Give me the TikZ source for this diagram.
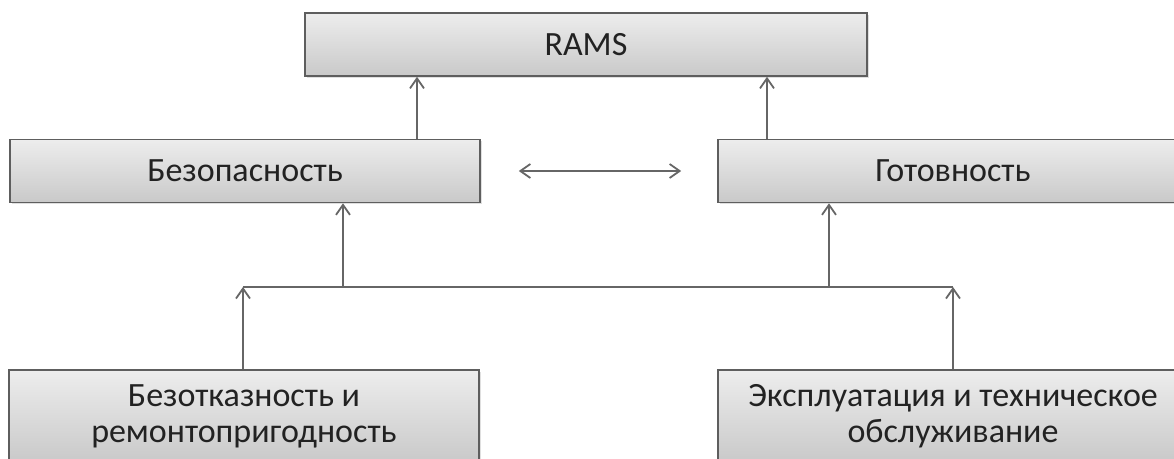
\documentclass[tikz,border=0pt]{standalone}
\usepackage{fontspec}
\setmainfont{Carlito}
\usepackage{xcolor}
\usetikzlibrary{arrows.meta, shadows}

\definecolor{boxtop}{HTML}{EDEDED}
\definecolor{boxbot}{HTML}{C9C9C9}
\definecolor{boxline}{HTML}{5E5E5E}
\definecolor{linegray}{HTML}{666666}
\definecolor{boxtext}{HTML}{222222}

\tikzset{
  block/.style={draw=boxline, line width=0.8pt, top color=boxtop, bottom color=boxbot,
    minimum width=235pt, minimum height=31.5pt, text=boxtext, align=center,
    font=\fontsize{17}{18}\selectfont,
    drop shadow={opacity=0.25, shadow xshift=1pt, shadow yshift=-1pt}},
  conn/.style={draw=linegray, line width=0.9pt, -{Straight Barb[length=5pt,width=7pt]}}
}

\begin{document}
\begin{tikzpicture}[x=0.5pt, y=-0.5pt]
\clip (0,0) rectangle (1174,459);
\fill[white] (0,0) rectangle (1174,459);

% Top level
\node[block, minimum width=281pt] (rams) at (586,44.5) {RAMS};

% Middle level
\node[block] (bez) at (245,171) {Безопасность};
\node[block] (got) at (953,171) {Готовность};

% Bottom level
\node[block, minimum height=46pt] (rel) at (244,416) {Безотказность и\\ремонтопригодность};
\node[block, minimum height=46pt] (ops) at (953,416) {Эксплуатация и техническое\\обслуживание};

% Bus line
\coordinate (busL) at (243,287);
\coordinate (busR) at (953,287);
\draw[linegray, line width=0.9pt] (busL) -- (busR);

% Arrows up
\draw[conn] (rel.north -| busL) -- (busL);
\draw[conn] (ops.north -| busR) -- (busR);
\draw[conn] (busL -| 343,0) -- (bez.south -| 343,0);
\draw[conn] (busR -| 829,0) -- (got.south -| 829,0);
\draw[conn] (bez.north -| 417,0) -- (rams.south -| 417,0);
\draw[conn] (got.north -| 767,0) -- (rams.south -| 767,0);

% Between safety and availability
\draw[conn, {Straight Barb[length=5pt,width=7pt]}-{Straight Barb[length=5pt,width=7pt]}] ([xshift=19pt]bez.east) -- ([xshift=-18pt]got.west);
\end{tikzpicture}
\end{document}
